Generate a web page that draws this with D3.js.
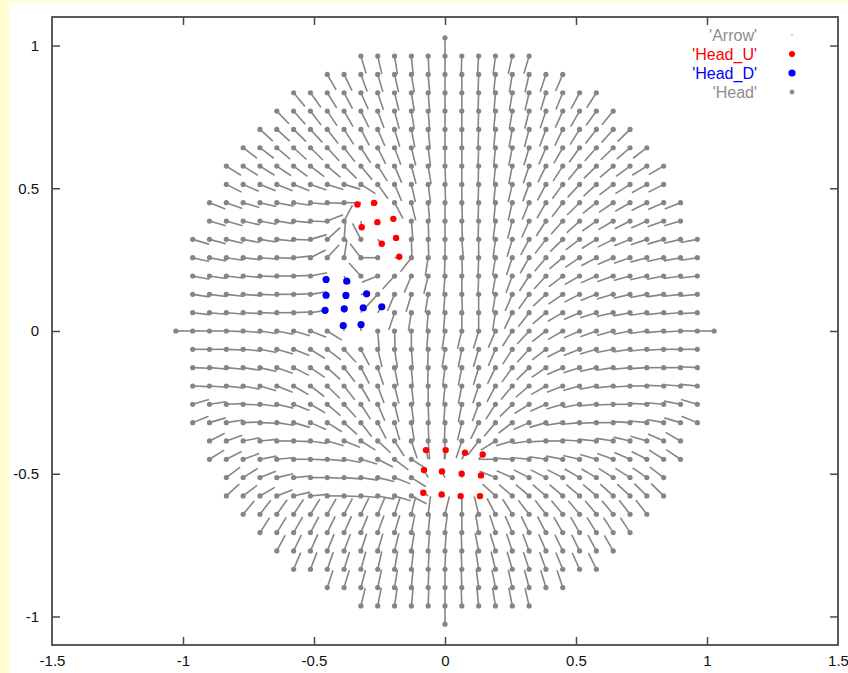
<!DOCTYPE html>
<html>
<head>
<meta charset="utf-8">
<script src="https://cdn.jsdelivr.net/npm/d3@7"></script>
<style>
  body { margin: 0; background: #ffffd2; }
  svg { display: block; }
  .tick text { font-family: "Liberation Sans", Arial, sans-serif; font-size: 15px; fill: #111; }
</style>
</head>
<body>
<div id="chart"></div>
<script>
// lattice step in axis units, and arrow length in lattice steps
var step = 0.0642;
var arrowLen = 1.0;

// arrow direction (degrees, 0 = right, 90 = up) for every head on the lattice,
// one string per row from j = 16 down to j = -16, columns i = -w .. w
// U / D = this node has a Head_U / Head_D marker instead (see lists below)
var rowAngles = [
  "90",
  "108 104 100 96 93 90 88 86 82 76 72",
  "122 118 112 108 104 100 95 90 90 88 84 80 76 70 65",
  "132 128 124 120 116 110 105 100 95 90 90 88 85 80 76 72 66 60 55",
  "136 134 130 126 122 118 112 106 100 95 90 90 88 84 80 75 70 64 58 52 48",
  "140 140 138 135 130 125 120 115 108 102 96 90 90 88 84 79 74 68 62 56 50 46 42",
  "145 145 142 140 138 135 130 125 118 112 105 98 90 90 88 84 78 72 65 58 52 46 42 38 35",
  "150 150 150 148 146 145 142 138 132 125 115 106 100 92 90 88 84 78 70 62 55 48 42 38 34 30 28",
  "155 158 160 160 160 162 164 165 150 128 115 104 98 92 90 88 84 76 68 60 52 45 40 35 30 27 25",
  "160 162 165 168 170 172 175 178 180 U U 120 105 95 90 92 88 84 76 66 58 50 42 36 32 28 25 22 20",
  "165 165 168 170 172 175 178 200 240 U U U 95 92 90 92 88 82 74 64 55 46 40 33 28 25 22 18 15",
  "165 166 168 170 172 175 178 195 220 265 300 U U 92 92 90 95 90 82 72 60 50 42 35 30 25 20 17 15 12 10",
  "168 170 172 174 176 178 185 205 225 260 310 0 U 50 80 88 92 88 80 70 58 48 38 32 26 22 18 14 12 10 8",
  "170 172 174 176 178 180 182 190 D D 315 20 45 65 75 85 90 88 80 68 55 45 35 28 22 18 14 12 10 8 6",
  "172 173 174 176 178 180 182 188 D D D 45 65 72 80 85 92 90 80 65 52 40 32 25 20 15 12 10 8 6 5",
  "174 175 176 177 178 180 182 188 D D D D 70 80 85 85 90 90 80 62 50 38 28 22 16 12 10 8 6 4 3",
  "180 180 180 178 175 172 170 165 160 150 D D 95 92 90 85 80 75 72 65 55 45 35 28 22 18 14 10 8 5 3 0 0",
  "180 180 178 175 170 165 160 150 145 135 120 105 100 95 88 80 78 72 65 55 45 35 25 20 15 10 8 5 3 0 0",
  "178 176 175 172 168 162 155 148 140 130 120 110 102 95 88 82 78 72 62 52 42 32 22 16 12 8 5 3 0 0 -3",
  "178 176 174 170 165 160 152 145 138 130 122 112 105 98 90 84 78 70 60 48 38 28 20 14 10 6 3 0 -2 -4 -5",
  "195 188 182 178 174 168 160 152 142 135 125 115 105 98 92 86 78 68 55 42 30 22 15 10 5 2 0 -3 -5 -10 -15",
  "200 195 188 182 178 172 165 158 150 140 130 120 108 100 92 88 75 62 48 35 22 15 8 5 2 0 -3 -5 -10 -15 -20",
  "205 198 190 185 180 178 172 165 160 150 140 125 110 95 88 70 50 30 15 8 3 0 -3 -5 -8 -12 -15 -22 -28",
  "210 205 198 190 185 180 178 175 170 165 155 145 150 U U U U 0 -3 -5 -8 -10 -12 -15 -18 -22 -25 -30 -32",
  "215 210 200 192 185 180 178 176 172 168 160 150 U U U U -20 -22 -25 -25 -25 -28 -28 -30 -30 -32 -35",
  "220 215 208 200 192 185 180 178 175 170 165 155 U U U U -40 -38 -38 -38 -38 -38 -38 -40 -40 -42 -42",
  "228 230 232 234 236 238 240 242 245 250 255 262 255 270 285 300 305 310 310 312 312 312 312 310 310",
  "235 236 238 240 242 244 246 248 252 258 264 262 270 280 290 295 298 300 302 302 304 305 305",
  "240 242 244 246 248 250 252 255 260 265 266 272 282 288 290 292 295 298 298 300 302",
  "245 247 249 251 253 256 259 263 267 268 272 280 285 288 290 292 294 296 298",
  "250 252 254 257 260 264 268 270 272 278 282 284 286 288 290",
  "255 258 261 264 268 270 272 276 280 282 284",
  "270"
];

// marked heads: [node i, node j, head x, head y] in lattice steps
var headU = [
  [-5, 7, -5.21, 6.90], [-4, 7, -4.22, 6.99],
  [-5, 6, -4.95, 5.66], [-4, 6, -4.02, 5.94], [-3, 6, -3.07, 6.12],
  [-4, 5, -3.76, 4.76], [-3, 5, -2.91, 5.08], [-3, 4, -2.72, 4.05],
  [-1, -7, -1.13, -6.50], [0, -7, 0.04, -6.50], [1, -7, 1.19, -6.64], [2, -7, 2.24, -6.74],
  [-1, -8, -1.25, -7.59], [0, -8, -0.18, -7.66], [1, -8, 0.99, -7.79], [2, -8, 2.14, -7.88],
  [-1, -9, -1.29, -8.83], [0, -9, -0.20, -8.92], [1, -9, 0.93, -9.01], [2, -9, 2.08, -9.01]
];
var headD = [
  [-7, 3, -7.07, 2.81], [-6, 3, -5.84, 2.72],
  [-7, 2, -7.07, 1.95], [-6, 2, -5.89, 1.94], [-5, 2, -4.66, 2.03],
  [-7, 1, -7.13, 1.13], [-6, 1, -5.99, 1.21], [-5, 1, -4.86, 1.27], [-4, 1, -3.76, 1.32],
  [-6, 0, -6.05, 0.30], [-5, 0, -4.99, 0.35]
];

var xTicks = [-1.5, -1, -0.5, 0, 0.5, 1, 1.5];
var yTicks = [-1, -0.5, 0, 0.5, 1];
var legendNames = ["'Arrow'", "'Head_U'", "'Head_D'", "'Head'"];
var legendColors = ["#8c8c8c", "#ff0000", "#0000ff", "#8c8c8c"];
var legendDots = [0.8, 3, 3.6, 2.4];

var W = 848, H = 673;
var margin = {top: 17, left: 52};
var width = 838 - margin.left,
    height = 645 - margin.top;

var svg = d3.select("#chart").append("svg")
    .attr("width", W)
    .attr("height", H);

svg.append("rect").attr("width", W).attr("height", H).attr("fill", "#ffffd2");
svg.append("rect").attr("x", 9).attr("y", 2).attr("width", W - 9).attr("height", H - 2).attr("fill", "#fff");

var g = svg.append("g").attr("transform", "translate(" + margin.left + "," + margin.top + ")");

var x = d3.scaleLinear().domain([-1.5, 1.5]).range([0, width]);
var y = d3.scaleLinear().domain([-1.1, 1.1]).range([height, 0]);

// build arrows from the rows
var arrows = [];
rowAngles.forEach(function (row, k) {
    var j = 16 - k;
    var vals = row.split(" ");
    var w = (vals.length - 1) / 2;
    vals.forEach(function (v, t) {
        if (v === "U" || v === "D") return;
        var a = +v * Math.PI / 180;
        var i = t - w;
        arrows.push({
            hx: i, hy: j,
            tx: i - arrowLen * Math.cos(a),
            ty: j - arrowLen * Math.sin(a)
        });
    });
});
var marked = headU.concat(headD);

var grey = "#858585";

g.append("g").selectAll("line")
    .data(arrows)
    .join("line")
    .attr("x1", function (d) { return x(d.tx * step); })
    .attr("y1", function (d) { return y(d.ty * step); })
    .attr("x2", function (d) { return x(d.hx * step); })
    .attr("y2", function (d) { return y(d.hy * step); })
    .attr("stroke", grey)
    .attr("stroke-width", 1.6);

g.append("g").selectAll("line")
    .data(marked)
    .join("line")
    .attr("x1", function (d) { return x(d[0] * step); })
    .attr("y1", function (d) { return y(d[1] * step); })
    .attr("x2", function (d) { return x(d[2] * step); })
    .attr("y2", function (d) { return y(d[3] * step); })
    .attr("stroke", grey)
    .attr("stroke-width", 1.6);

g.append("g").selectAll("circle")
    .data(arrows)
    .join("circle")
    .attr("cx", function (d) { return x(d.hx * step); })
    .attr("cy", function (d) { return y(d.hy * step); })
    .attr("r", 2.6)
    .attr("fill", grey);

g.append("g").selectAll("circle")
    .data(headU)
    .join("circle")
    .attr("cx", function (d) { return x(d[2] * step); })
    .attr("cy", function (d) { return y(d[3] * step); })
    .attr("r", 3.2)
    .attr("fill", "#ff0000");

g.append("g").selectAll("circle")
    .data(headD)
    .join("circle")
    .attr("cx", function (d) { return x(d[2] * step); })
    .attr("cy", function (d) { return y(d[3] * step); })
    .attr("r", 3.6)
    .attr("fill", "#0000ee");

// axes, ticks pointing inward on all four sides
var axisColor = "#4a4a4a";
var plain = function (d) { return String(d); };
var axBottom = g.append("g").attr("transform", "translate(0," + height + ")")
    .call(d3.axisBottom(x).tickValues(xTicks).tickSizeInner(-8).tickSizeOuter(0).tickPadding(10.5)
        .tickFormat(plain));
var axTop = g.append("g")
    .call(d3.axisTop(x).tickValues(xTicks).tickSizeInner(-8).tickSizeOuter(0).tickFormat(""));
var axLeft = g.append("g")
    .call(d3.axisLeft(y).tickValues(yTicks).tickSizeInner(-8).tickSizeOuter(0).tickPadding(13)
        .tickFormat(plain));
var axRight = g.append("g").attr("transform", "translate(" + width + ",0)")
    .call(d3.axisRight(y).tickValues(yTicks).tickSizeInner(-8).tickSizeOuter(0).tickFormat(""));

[axBottom, axTop, axLeft, axRight].forEach(function (a) {
    a.select(".domain").remove();
    a.selectAll(".tick line").attr("stroke", axisColor).attr("stroke-width", 1.5);
    a.selectAll(".tick text").attr("font-family", null).attr("font-size", null);
});
[axBottom, axTop].forEach(function (a) {
    a.selectAll(".tick").filter(function (d) { return d === -1.5 || d === 1.5; }).select("line").remove();
});

g.append("rect")
    .attr("width", width).attr("height", height)
    .attr("fill", "none")
    .attr("stroke", axisColor)
    .attr("stroke-width", 1.8);

// legend, top right inside the frame
var legend = svg.append("g");
legendNames.forEach(function (name, k) {
    var ly = 35 + k * 19;
    legend.append("text")
        .attr("x", 757).attr("y", ly)
        .attr("dy", "0.36em")
        .attr("text-anchor", "end")
        .attr("font-family", "Liberation Sans, Arial, sans-serif")
        .attr("font-size", 16)
        .attr("fill", legendColors[k])
        .text(name);
    legend.append("circle")
        .attr("cx", 792).attr("cy", ly)
        .attr("r", legendDots[k])
        .attr("fill", legendColors[k]);
});
</script>
</body>
</html>
